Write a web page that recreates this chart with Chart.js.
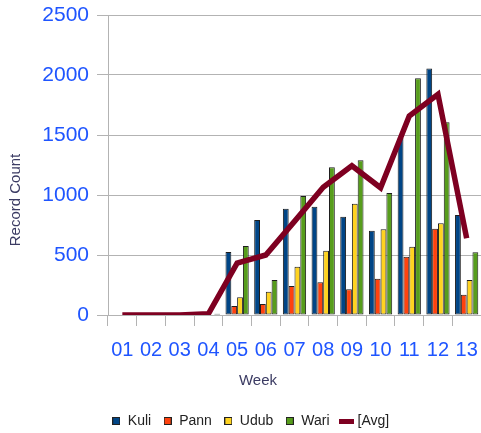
<!DOCTYPE html>
<html>
<head>
<meta charset="utf-8">
<script src="https://cdn.jsdelivr.net/npm/chart.js@4/dist/chart.umd.min.js"></script>
<style>
html,body{margin:0;padding:0;background:#fff;}
#wrap{width:481px;height:433px;position:relative;}
</style>
</head>
<body>
<div id="wrap"><canvas id="c" width="481" height="433"></canvas></div>
<script>
const weeks = ["01","02","03","04","05","06","07","08","09","10","11","12","13"];
const kuli = [0,0,0,0,525,792,886,903,819,703,1480,2055,833];
const pann = [0,0,0,0,75,92,242,272,214,303,486,719,169];
const udub = [0,0,0,0,147,194,403,536,928,714,569,764,292];
const wari = [0,0,0,10,575,292,992,1231,1289,1017,1972,1606,522];
const avg  = [0,0,0,10,433,500,780,1065,1244,1060,1658,1839,639];
const yTicks = [0,500,1000,1500,2000,2500];

const colors = {Kuli:'#004586', Pann:'#ff420e', Udub:'#ffd320', Wari:'#579d1c', Avg:'#7e0021'};

function boxImg(fill, w, h, stroke){
  const c = document.createElement('canvas'); c.width = w; c.height = h;
  const g = c.getContext('2d');
  g.fillStyle = fill; g.fillRect(0,0,w,h);
  if (stroke){ g.strokeStyle = stroke; g.lineWidth = 1; g.strokeRect(0.5,0.5,w-1,h-1); }
  return c;
}
const legendImgs = {
  Kuli: boxImg(colors.Kuli, 8, 8, '#222'),
  Pann: boxImg(colors.Pann, 8, 8, '#222'),
  Udub: boxImg(colors.Udub, 8, 8, '#222'),
  Wari: boxImg(colors.Wari, 8, 8, '#222'),
  '[Avg]': boxImg(colors.Avg, 15, 5, null)
};

function barDs(label, data){
  return {type:'bar', label, data, backgroundColor: colors[label], borderColor:'#1e1e1e',
    borderWidth:1, borderSkipped:false, categoryPercentage:0.81, barPercentage:1.0, order:1};
}

const titlePlugin = {
  id:'axisTitles',
  afterDraw(chart){
    const ctx = chart.ctx;
    ctx.save();
    ctx.fillStyle = '#3b3b63';
    ctx.font = '15px "Liberation Sans", Arial, sans-serif';
    ctx.textAlign = 'center'; ctx.textBaseline = 'middle';
    ctx.fillText('Week', 258, 381);
    ctx.translate(16, 200);
    ctx.rotate(-Math.PI/2);
    ctx.fillText('Record Count', 0, 0);
    ctx.restore();
  }
};

new Chart(document.getElementById('c'), {
  data: {
    labels: weeks,
    datasets: [
      barDs('Kuli', kuli),
      barDs('Pann', pann),
      barDs('Udub', udub),
      barDs('Wari', wari),
      {type:'line', label:'[Avg]', data: avg, borderColor: colors.Avg, backgroundColor: colors.Avg,
       borderWidth:5.5, pointRadius:0, tension:0, borderJoinStyle:'miter', order:0}
    ]
  },
  options: {
    responsive:false, animation:false,
    layout:{padding:{left:20, top:15, right:0, bottom:-5}},
    scales:{
      x:{
        offset:true,
        grid:{display:true, drawOnChartArea:false, color:'#b3b3b3', tickLength:11, offset:true},
        border:{display:true, color:'#b3b3b3'},
        ticks:{color:'#1f55ff', font:{size:20, family:'"Liberation Sans", Arial, sans-serif'}, padding:12,
               maxRotation:0, minRotation:0, autoSkip:false},
        afterFit(s){ s.height = 87; s.paddingLeft = 0; s.paddingRight = 0; }
      },
      y:{
        min:0, max:2500,
        afterBuildTicks(s){ s.ticks = yTicks.map(v=>({value:v})); },
        grid:{color:'#b3b3b3', tickLength:11},
        border:{display:true, color:'#b3b3b3'},
        ticks:{color:'#1f55ff', font:{size:21, family:'"Liberation Sans", Arial, sans-serif'}, padding:8,
               callback:(v)=>String(v)},
        afterFit(s){ s.width = 88; s.paddingTop = 0; s.paddingBottom = 0; }
      }
    },
    plugins:{
      tooltip:{enabled:false},
      legend:{
        position:'bottom',
        labels:{
          usePointStyle:true, pointStyleWidth:9, boxHeight:9, padding:12,
          color:'#222', font:{size:14, family:'"Liberation Sans", Arial, sans-serif'},
          generateLabels(chart){
            return chart.data.datasets.map((d,i)=>({
              text:d.label, pointStyle: legendImgs[d.label], fillStyle:colors[d.label==='[Avg]'?'Avg':d.label],
              strokeStyle:'#222', lineWidth:0, hidden:false, datasetIndex:i, fontColor:'#222'
            }));
          }
        }
      }
    }
  },
  plugins:[titlePlugin]
});
</script>
</body>
</html>
